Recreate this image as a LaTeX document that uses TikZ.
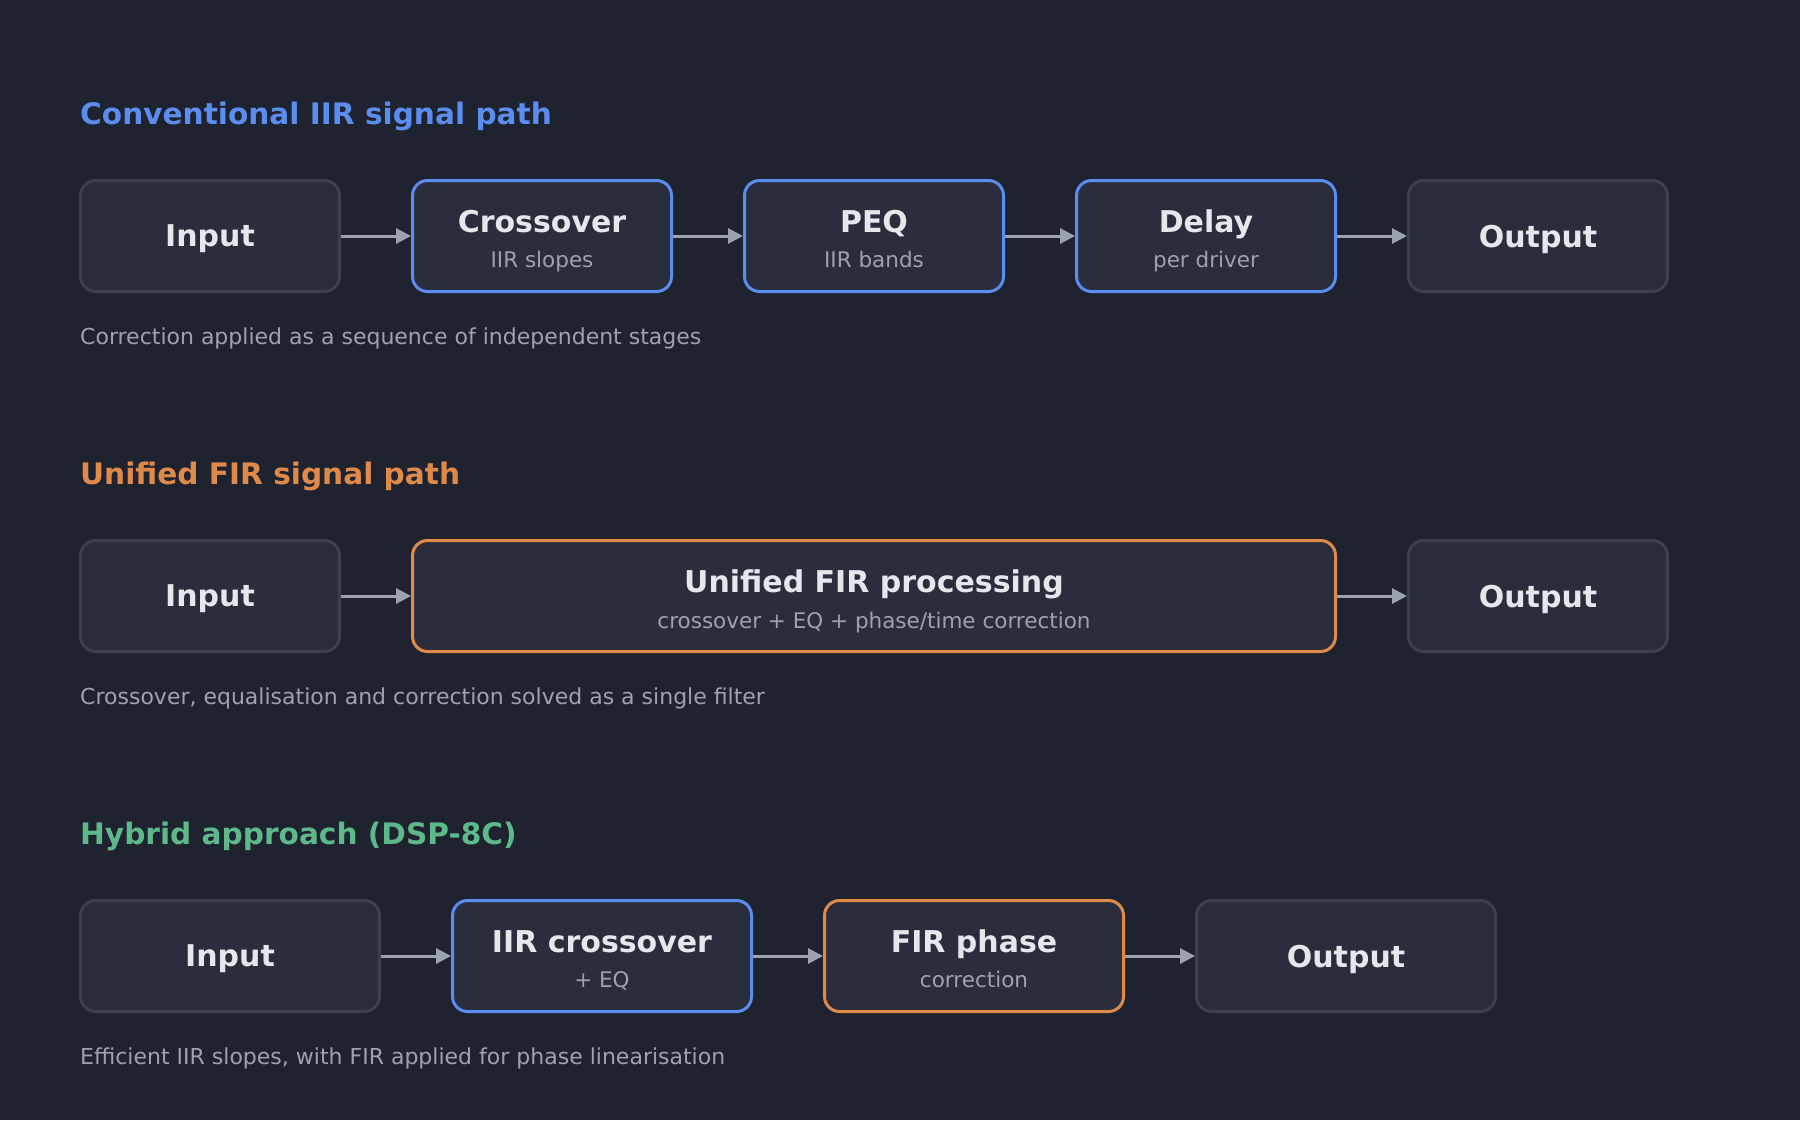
\documentclass[tikz,border=0pt]{standalone}
\usepackage{fontspec}
\setmainfont{DejaVu Sans}
\usetikzlibrary{arrows.meta}
\definecolor{bg-dark}{HTML}{1F2330}
\definecolor{box-fill}{HTML}{292D3C}
\definecolor{edge-grey}{HTML}{3B404F}
\definecolor{iir-blue}{HTML}{5B8DEF}
\definecolor{fir-orange}{HTML}{E08A4A}
\definecolor{hyb-green}{HTML}{5DB88A}
\definecolor{label-white}{HTML}{E5E7EB}
\definecolor{sub-grey}{HTML}{9CA3AF}

\begin{document}
\begin{tikzpicture}[x=1pt, y=-1pt, >={Triangle[length=15pt,width=15pt]},
	   blk/.style={draw=edge-grey, fill=box-fill, rounded corners=15pt, line width=3pt, minimum width=259pt, minimum height=111pt, inner sep=0pt, text depth=0pt, text=label-white, font=\fontsize{30}{36}\selectfont\bfseries},
	   iir/.style={blk, draw=iir-blue},
	   fir/.style={blk, draw=fir-orange},
	   wide/.style={minimum width=299pt},
	   lbl/.style={anchor=base, text=label-white, font=\fontsize{30}{36}\selectfont\bfseries, inner sep=0pt},
	   sub/.style={anchor=base, text=sub-grey, font=\fontsize{21.5}{26}\selectfont, inner sep=0pt},
	   ttl/.style={anchor=base west, font=\fontsize{29.6}{36}\selectfont\bfseries, inner sep=0pt},
	   note/.style={anchor=base west, text=sub-grey, font=\fontsize{22}{26}\selectfont, inner sep=0pt},
	   arr/.style={->, draw=sub-grey, line width=3pt}]
	  \fill[bg-dark] (0,0) rectangle (1800,1120);
	  % conventional IIR
	  \node[ttl, text=iir-blue] (t1) at (80,124) {Conventional IIR signal path};
	  \node[blk] (in1) at (210,236) {Input};
	  \node[iir] (xo1) at (542,236) {};
	  \node[lbl] (xo1a) at (542,232) {Crossover};
	  \node[sub] (xo1b) at (542,267) {IIR slopes};
	  \node[iir] (peq1) at (874,236) {};
	  \node[lbl] (peq1a) at (874,232) {PEQ};
	  \node[sub] (peq1b) at (874,267) {IIR bands};
	  \node[iir] (dl1) at (1206,236) {};
	  \node[lbl] (dl1a) at (1206,232) {Delay};
	  \node[sub] (dl1b) at (1206,267) {per driver};
	  \node[blk] (out1) at (1538,236) {Output};
	  \node[note] (c1) at (80,344) {Correction applied as a sequence of independent stages};
	  \draw[arr] (in1)--(xo1); \draw[arr] (xo1)--(peq1); \draw[arr] (peq1)--(dl1); \draw[arr] (dl1)--(out1);
	  % unified FIR
	  \node[ttl, text=fir-orange] (t2) at (80,484) {Unified FIR signal path};
	  \node[blk] (in2) at (210,596) {Input};
	  \node[fir, minimum width=923pt] (fir2) at (874,596) {};
	  \node[lbl] (fir2a) at (874,592) {Unified FIR processing};
	  \node[sub] (fir2b) at (874,628) {crossover + EQ + phase/time correction};
	  \node[blk] (out2) at (1538,596) {Output};
	  \node[note] (c2) at (80,704) {Crossover, equalisation and correction solved as a single filter};
	  \draw[arr] (in2)--(fir2); \draw[arr] (fir2)--(out2);
	  % hybrid
	  \node[ttl, text=hyb-green] (t3) at (80,844) {Hybrid approach (DSP-8C)};
	  \node[blk, wide] (in3) at (230,956) {Input};
	  \node[iir, wide] (xo3) at (602,956) {};
	  \node[lbl] (xo3a) at (602,952) {IIR crossover};
	  \node[sub] (xo3b) at (602,987) {+ EQ};
	  \node[fir, wide] (ph3) at (974,956) {};
	  \node[lbl] (ph3a) at (974,952) {FIR phase};
	  \node[sub] (ph3b) at (974,987) {correction};
	  \node[blk, wide] (out3) at (1346,956) {Output};
	  \node[note] (c3) at (80,1064) {Efficient IIR slopes, with FIR applied for phase linearisation};
	  \draw[arr] (in3)--(xo3); \draw[arr] (xo3)--(ph3); \draw[arr] (ph3)--(out3);
	\end{tikzpicture}
\end{document}
